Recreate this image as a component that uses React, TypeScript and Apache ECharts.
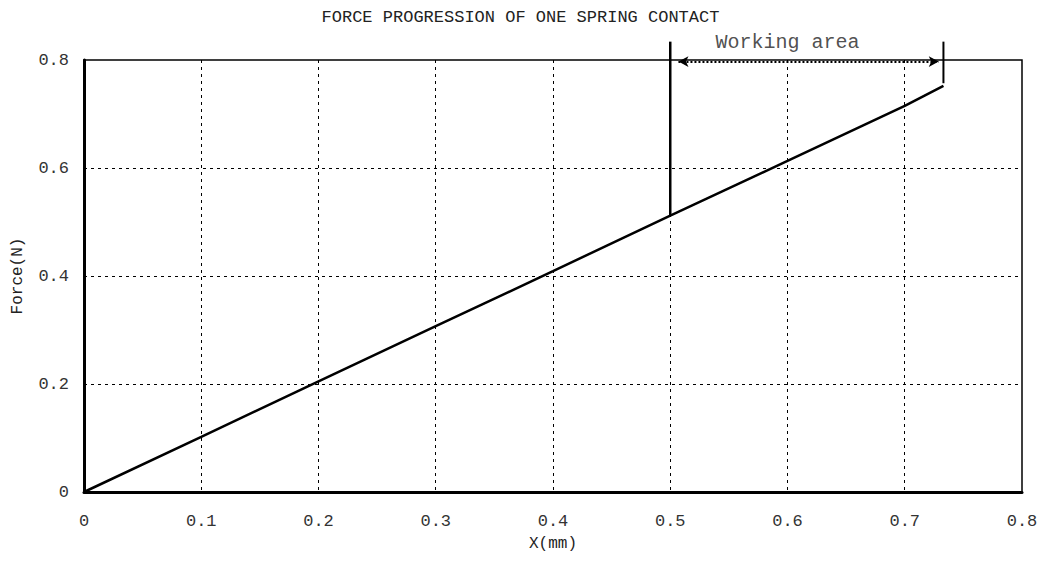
import React, { useEffect, useRef } from "react";
import * as echarts from "echarts";

const curveX = [0, 0.1, 0.2, 0.3, 0.4, 0.5, 0.6, 0.7, 0.733];
const curveY = [0, 0.102, 0.205, 0.307, 0.409, 0.512, 0.613, 0.715, 0.752];
const leftMarker = [[0.5, 0.512], [0.5, 0.834]];
const rightMarker = [[0.733, 0.757], [0.733, 0.834]];
const arrowStart = [0.507, 0.797];
const arrowEnd = [0.729, 0.797];
const areaLabelPos = [0.6, 0.832];
const titleText = "FORCE PROGRESSION OF ONE SPRING CONTACT";
const areaText = "Working area";
const xName = "X(mm)";
const yName = "Force(N)";

const FONT = "'Liberation Mono', 'DejaVu Sans Mono', monospace";

export default function App() {
  const ref = useRef<HTMLDivElement>(null);
  useEffect(() => {
    if (!ref.current) return;
    const chart = echarts.init(ref.current, null, { renderer: "svg" });
    const curve = curveX.map((x, i) => [x, curveY[i]]);
    chart.setOption({
      animation: false,
      backgroundColor: "#fff",
      title: {
        text: titleText,
        left: "center",
        top: 4,
        textStyle: { fontFamily: FONT, fontSize: 17, fontWeight: "normal", color: "#222" },
      },
      grid: {
        left: 84,
        right: 19,
        top: 60,
        bottom: 70,
        show: true,
        borderColor: "#000",
        borderWidth: 1.5,
      },
      xAxis: {
        type: "value",
        min: 0,
        max: 0.8,
        interval: 0.1,
        name: xName,
        nameLocation: "middle",
        nameGap: 44,
        nameTextStyle: { fontFamily: FONT, fontSize: 16, color: "#222" },
        axisLine: { show: true, onZero: false, lineStyle: { color: "#000", width: 3 } },
        axisTick: { show: false },
        axisLabel: {
          margin: 21,
          fontFamily: FONT,
          fontSize: 17,
          color: "#333",
          formatter: (v: number) => (v === 0 ? "0" : v.toFixed(1)),
        },
        splitLine: {
          show: true,
          showMinLine: false,
          showMaxLine: false,
          lineStyle: { color: "#000", type: [3, 4], width: 1 },
        },
      },
      yAxis: {
        type: "value",
        min: 0,
        max: 0.8,
        interval: 0.2,
        name: yName,
        nameLocation: "middle",
        nameGap: 58,
        nameTextStyle: { fontFamily: FONT, fontSize: 16, color: "#222" },
        axisLine: { show: true, onZero: false, lineStyle: { color: "#000", width: 3 } },
        axisTick: { show: false },
        axisLabel: {
          margin: 15,
          fontFamily: FONT,
          fontSize: 17,
          color: "#333",
          formatter: (v: number) => (v === 0 ? "0" : v.toFixed(1)),
        },
        splitLine: {
          show: true,
          showMinLine: false,
          showMaxLine: false,
          lineStyle: { color: "#000", type: [3, 4], width: 1 },
        },
      },
      series: [
        {
          type: "line",
          data: curve,
          showSymbol: false,
          symbol: "none",
          lineStyle: { color: "#000", width: 2.5 },
          z: 5,
        },
        {
          type: "line",
          data: leftMarker,
          symbol: "none",
          clip: false,
          lineStyle: { color: "#000", width: 2.5 },
          z: 6,
        },
        {
          type: "line",
          data: rightMarker,
          symbol: "none",
          clip: false,
          lineStyle: { color: "#000", width: 2 },
          z: 6,
          markLine: {
            silent: true,
            symbol: ["arrow", "arrow"],
            symbolSize: [8, 10],
            label: { show: false },
            lineStyle: { color: "#000", type: "dotted", width: 2 },
            data: [[{ coord: arrowStart }, { coord: arrowEnd }]],
          },
        },
        {
          type: "scatter",
          data: [areaLabelPos],
          symbolSize: 0,
          clip: false,
          silent: true,
          label: {
            show: true,
            position: "inside",
            formatter: areaText,
            fontFamily: FONT,
            fontSize: 20,
            color: "#222",
          },
        },
      ],
    });
    return () => chart.dispose();
  }, []);
  return <div ref={ref} style={{ width: 1041, height: 562, position: "absolute", left: 0, top: 0 }} />;
}
